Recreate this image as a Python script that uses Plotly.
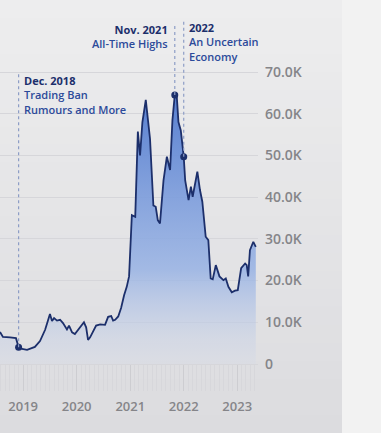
import plotly.graph_objects as go

dates = [
    "2018-07-27", "2018-08-16", "2018-10-03", "2018-11-13", "2018-12-01", "2018-12-24",
    "2019-01-28", "2019-02-24", "2019-03-22", "2019-04-26", "2019-05-31", "2019-06-20",
    "2019-07-03", "2019-07-17", "2019-07-31", "2019-08-20", "2019-09-10", "2019-09-30",
    "2019-10-27", "2019-11-10", "2019-12-01", "2019-12-20", "2020-01-10", "2020-02-07",
    "2020-02-20", "2020-03-06", "2020-03-19", "2020-04-02", "2020-04-23", "2020-05-13",
    "2020-06-10", "2020-07-13", "2020-08-03", "2020-08-24", "2020-09-06", "2020-09-20",
    "2020-10-11", "2020-10-31", "2020-11-20", "2020-12-08", "2020-12-24", "2021-01-12",
    "2021-02-04", "2021-02-22", "2021-03-09", "2021-03-25", "2021-04-17", "2021-05-16",
    "2021-06-08", "2021-06-24", "2021-07-08", "2021-07-23", "2021-08-16", "2021-09-08",
    "2021-09-30", "2021-10-16", "2021-11-01", "2021-11-15", "2021-11-26", "2021-12-12",
    "2022-01-01", "2022-01-11", "2022-02-03", "2022-02-19", "2022-03-03", "2022-04-04",
    "2022-04-22", "2022-05-08", "2022-05-31", "2022-06-18", "2022-07-04", "2022-07-18",
    "2022-08-08", "2022-09-02", "2022-09-29", "2022-10-15", "2022-11-02", "2022-11-25",
    "2022-12-17", "2023-01-05", "2023-01-28", "2023-02-24", "2023-03-07", "2023-03-17",
    "2023-03-29", "2023-04-21", "2023-05-08",
]
prices = [
    7700, 6500, 6400, 6200, 4000, 3600,
    3400, 3700, 4100, 5500, 8200, 10500,
    12000, 10300, 11000, 10400, 10600, 9800,
    8300, 9200, 7600, 7200, 8200, 9500,
    10000, 8800, 5800, 6400, 7800, 9200,
    9500, 9400, 11300, 11500, 10400, 10600,
    11400, 13500, 16500, 18500, 21000, 35700,
    35300, 55700, 50000, 58000, 63300, 54000,
    38000, 37700, 34500, 33700, 44000, 49700,
    46500, 58500, 64500, 64000, 58000, 56000,
    49700, 44000, 39300, 42500, 40100, 46100,
    41700, 38900, 30500, 29700, 20500, 20300,
    23700, 21000, 20100, 20500, 18500, 17200,
    17600, 17700, 23000, 24100, 23700, 21000,
    27300, 29300, 28100,
]

event_dates = ["2018-12-01", "2021-11-01", "2022-01-01"]
event_prices = [4000, 64500, 49700]
event_tops = [69900, 81500, 82200]
event_titles = ["Dec. 2018", "Nov. 2021", "2022"]
event_notes = ["Trading Ban<br>Rumours and More", "All-Time Highs", "An Uncertain<br>Economy"]

y_ticks = [0, 10000, 20000, 30000, 40000, 50000, 60000, 70000]
y_labels = ["0", "10.0K", "20.0K", "30.0K", "40.0K", "50.0K", "60.0K", "70.0K"]

NAVY = "#1c2f6b"
BLUE_TXT = "#2c4a9a"
FONT = "Open Sans"
PLOT_H = 364  # px height of plotting area

fig = go.Figure()

fig.add_trace(go.Scatter(
    x=dates, y=prices, mode="lines",
    line=dict(color=NAVY, width=1.8),
    fill="tozeroy",
    fillgradient=dict(
        type="vertical", start=0, stop=65000,
        colorscale=[[0, "rgba(205,214,234,0.2)"], [0.35, "rgba(148,176,228,0.82)"], [1, "rgba(86,126,208,1)"]],
    ),
    hoverinfo="skip", showlegend=False,
))

for d, p, t in zip(event_dates, event_prices, event_tops):
    fig.add_shape(type="line", x0=d, x1=d, y0=p, y1=t, xref="x", yref="y",
                  line=dict(color="#8d9dc6", width=1.2, dash="dot"), layer="above")

fig.add_trace(go.Scatter(
    x=event_dates, y=event_prices, mode="markers",
    marker=dict(color=NAVY, size=7),
    hoverinfo="skip", showlegend=False,
))

# Background: soft vertical gradient on the chart panel, lighter strip at right
n_bands = 24
for i in range(n_bands):
    f = i / (n_bands - 1)
    r = int(round(237 - 17 * f))
    b = int(round(238 - 15 * f))
    y_hi = 1 - (433 * i / n_bands) / PLOT_H
    y_lo = 1 - (433 * (i + 1) / n_bands) / PLOT_H
    fig.add_shape(type="rect", xref="paper", yref="paper", x0=-0.05, x1=342 / 258,
                  y0=y_lo - 0.002, y1=y_hi, fillcolor=f"rgb({r},{r},{b})",
                  line=dict(width=0), layer="below")
fig.add_shape(type="rect", xref="paper", yref="paper", x0=342 / 258, x1=1.6, y0=-0.3, y1=1.05,
              fillcolor="#f2f2f2", line=dict(width=0), layer="below")

# Annotation text blocks (centre of each block in px from top)
block_center_px = [95, 36.5, 42]
anchors = ["left", "right", "left"]
shifts = [4, -6, 4]
for d, title, note, yc, xa, xs in zip(event_dates, event_titles, event_notes, block_center_px, anchors, shifts):
    fig.add_annotation(
        x=d, y=1 - yc / PLOT_H, xref="x", yref="paper",
        xanchor=xa, yanchor="middle", xshift=xs, showarrow=False,
        align=xa, borderpad=0,
        text=f"<b>{title}</b><br><span style='color:{BLUE_TXT}'>{note}</span>",
        font=dict(family=FONT, size=11, color=NAVY, weight=600),
    )

fig.update_layout(
    width=381, height=433,
    margin=dict(l=0, r=123, t=0, b=69),
    paper_bgcolor="#e8e8ea",
    plot_bgcolor="rgba(0,0,0,0)",
    showlegend=False,
    xaxis=dict(
        type="date", range=["2018-07-27", "2023-05-23"],
        showgrid=False, zeroline=False, showline=False,
        tick0="2019-01-01", dtick="M12", tickformat="%Y",
        ticks="outside", ticklen=26, tickcolor="#cdcdd1", tickwidth=1,
        minor=dict(dtick="M1", ticks="outside", ticklen=26, tickcolor="#d7d7db", tickwidth=1),
        tickfont=dict(family=FONT, size=13, color="#858589", weight=600),
        ticklabelstandoff=4,
        fixedrange=True,
    ),
    yaxis=dict(
        range=[0, 87260], side="right",
        tickvals=y_ticks, ticktext=y_labels,
        showgrid=True, gridcolor="#d6d6da", gridwidth=1,
        zeroline=True, zerolinecolor="#d6d6da", zerolinewidth=1,
        showline=False, ticks="", ticklabelstandoff=6,
        tickfont=dict(family=FONT, size=14, color="#858589", weight=600),
        fixedrange=True,
    ),
)

fig.write_html("out.html", config={"displayModeBar": False},
               post_script="document.body.style.margin='0px';document.body.style.overflow='hidden';")
